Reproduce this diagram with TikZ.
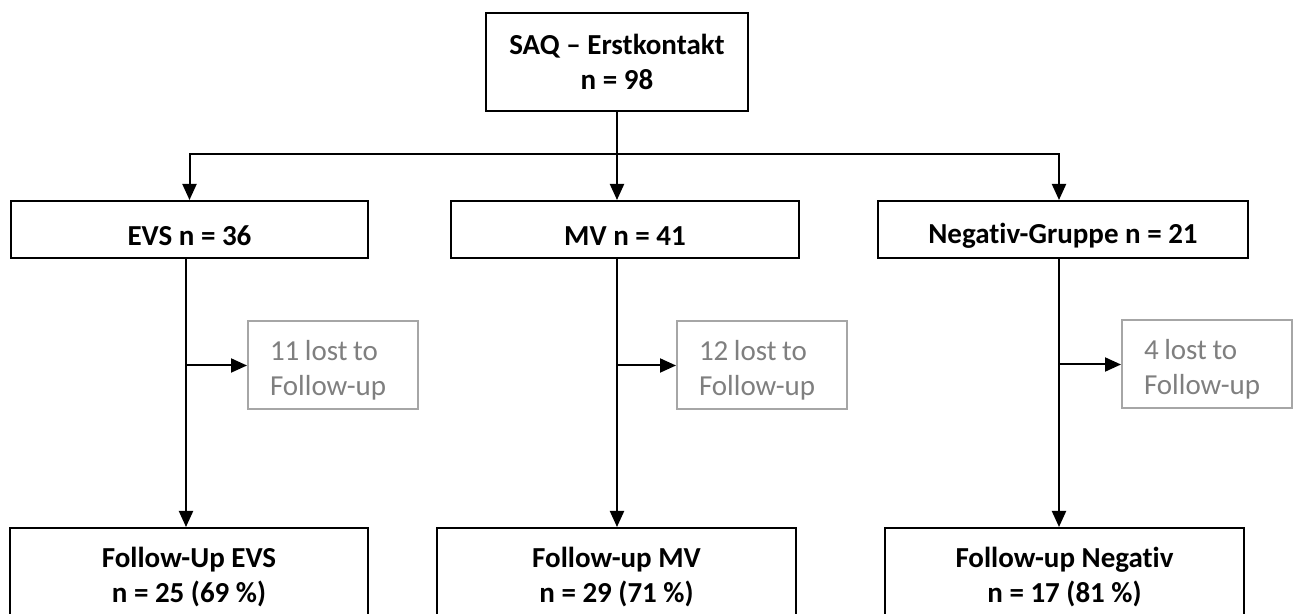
\documentclass[tikz,border=0pt]{standalone}
\usepackage{fontspec}
\setmainfont{Carlito}[Ligatures={TeX,NoCommon}]
\usetikzlibrary{arrows.meta}
\definecolor{lostline}{HTML}{A6A6A6}
\definecolor{losttext}{HTML}{7F7F7F}
\tikzset{
  box/.style={draw=black, line width=1pt, font=\fontsize{14.5}{17.5}\selectfont\bfseries, align=center, inner sep=0pt},
  groupbox/.style={box, minimum height=28.5pt, execute at begin node=\rule{0pt}{16pt}},
  lostbox/.style={draw=lostline, line width=1pt, text=losttext, font=\fontsize{14.5}{17.5}\selectfont, align=left, text width=63pt, inner xsep=11pt, inner ysep=0pt, minimum width=85pt, minimum height=44pt, execute at begin node={\spaceskip=0.85\fontdimen2\font\rule{0pt}{15pt}}},
  link/.style={line width=1pt, -{Triangle[length=8pt,width=7pt]}}
}
\begin{document}
\begin{tikzpicture}[x=0.5pt,y=-0.5pt]
\useasboundingbox (0,0) rectangle (1296,614);
% start
\node[box, minimum width=131pt, minimum height=49pt] (saq) at (617,62) {SAQ – Erstkontakt\\n = 98};
\coordinate (split) at (617,154);
% groups
\node[groupbox, minimum width=178.5pt] (evs) at (189.5,229.5) {EVS n = 36};
\node[groupbox, minimum width=174pt] (mv) at (625,229.5) {MV n = 41};
\node[groupbox, minimum width=185pt] (neg) at (1063,229.5) {Negativ-Gruppe n = 21};
% lost to follow-up
\node[lostbox] (evslost) at (333,365.5) {11 lost to\\Follow-up};
\node[lostbox] (mvlost) at (762,365.5) {12 lost to\\Follow-up};
\node[lostbox] (neglost) at (1207,364.5) {4 lost to\\Follow-up};
% follow-up
\node[box, minimum width=179pt, minimum height=49.5pt] (evsfu) at (189,577.5) {Follow-Up EVS\\n = 25 (69 \%)};
\node[box, minimum width=179.5pt, minimum height=49.5pt] (mvfu) at (616.5,577.5) {Follow-up MV\\n = 29 (71 \%)};
\node[box, minimum width=179.5pt, minimum height=49.5pt] (negfu) at (1064.5,577.5) {Follow-up Negativ\\n = 17 (81 \%)};
\coordinate (evscol) at (186,0);
\coordinate (mvcol) at (617,0);
\coordinate (negcol) at (1059,0);
% connectors
\draw[line width=1pt] (saq.south) -- (split);
\draw[link] (split) -| (evs.north);
\draw[link] (split) -- (mv.north -| split);
\draw[link] (split) -| (negcol |- neg.north);
\draw[link] (evs.south -| evscol) -- (evsfu.north -| evscol);
\draw[link] (mv.south -| mvcol) -- (mvfu.north -| mvcol);
\draw[link] (neg.south -| negcol) -- (negfu.north -| negcol);
\draw[link] (evslost.west -| evscol) -- (evslost.west);
\draw[link] (mvlost.west -| mvcol) -- (mvlost.west);
\draw[link] (neglost.west -| negcol) -- (neglost.west);
\end{tikzpicture}
\end{document}
